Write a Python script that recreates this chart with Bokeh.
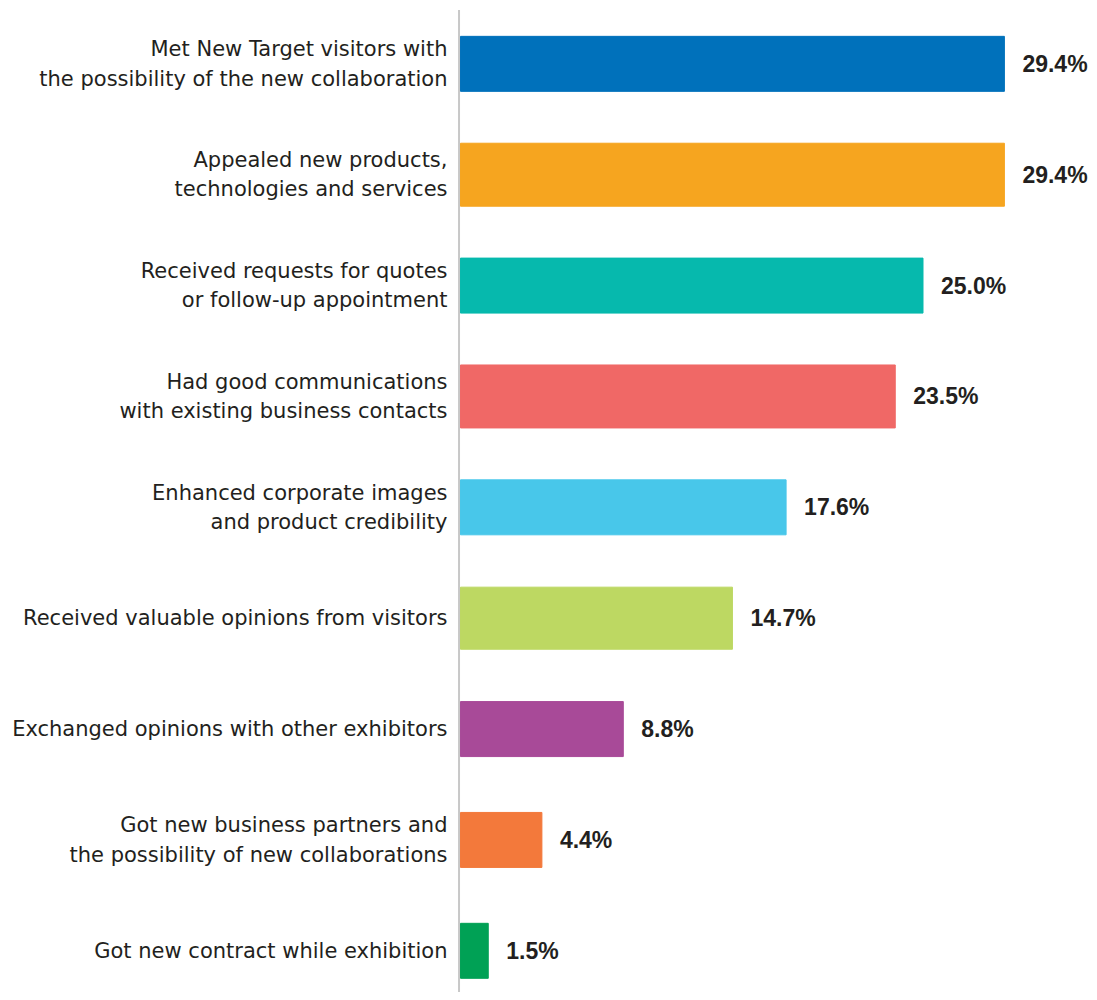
from bokeh.plotting import figure
from bokeh.models import Range1d, ColumnDataSource
from bokeh.core.properties import value
from bokeh.embed import file_html
from bokeh.resources import INLINE

categories = [
    "Met New Target visitors with\nthe possibility of the new collaboration",
    "Appealed new products,\ntechnologies and services",
    "Received requests for quotes\nor follow-up appointment",
    "Had good communications\nwith existing business contacts",
    "Enhanced corporate images\nand product credibility",
    "Received valuable opinions from visitors",
    "Exchanged opinions with other exhibitors",
    "Got new business partners and\nthe possibility of new collaborations",
    "Got new contract while exhibition",
]
values = [29.4, 29.4, 25.0, 23.5, 17.6, 14.7, 8.8, 4.4, 1.5]
value_labels = ["29.4%", "29.4%", "25.0%", "23.5%", "17.6%", "14.7%", "8.8%", "4.4%", "1.5%"]

colors = ["#0071bb", "#f6a51f", "#06b9ad", "#f06866", "#48c7ea",
          "#bdd862", "#a84a98", "#f3793b", "#00a155"]
thickness = [0.496, 0.568, 0.496, 0.568, 0.496, 0.56, 0.496, 0.496, 0.496]

W, H = 1089, 992
px_per_unit = 18.5
x_start = -(460 / px_per_unit)
x_end = x_start + W / px_per_unit
row = 110.87
y_top = -(63.35 / row)
y_bottom = y_top + H / row

idx = list(range(len(values)))
src = ColumnDataSource(dict(y=idx, v=values, cat=categories, lab=value_labels,
                            c=colors, h=thickness, zero=[0] * len(values)))

p = figure(width=W, height=H, output_backend="svg", toolbar_location=None,
           x_range=Range1d(x_start, x_end), y_range=Range1d(y_bottom, y_top),
           min_border=0, outline_line_color=None)
p.xaxis.visible = False
p.yaxis.visible = False
p.grid.visible = False
p.background_fill_color = "white"
p.border_fill_color = "white"

p.hbar(y="y", left=0, right="v", height="h", color="c", source=src)

# vertical axis line
p.segment(x0=[-0.08], x1=[-0.08], y0=[y_top + 9.5 / row], y1=[y_bottom],
          line_color="#c8c8c8", line_width=2)

p.text(x="zero", y="y", text="cat", source=src, x_offset=-13,
       text_align="right", text_baseline="middle",
       text_font=value("DejaVu Sans"), text_font_size="21px",
       text_color="#231f20", text_line_height=1.23)

p.text(x="v", y="y", text="lab", source=src, x_offset=18,
       text_align="left", text_baseline="middle",
       text_font=value("'Liberation Sans Narrow', 'Liberation Sans'"), text_font_size="23px",
       text_font_style="bold", text_color="#231f20")

open("out.html", "w").write(file_html(p, INLINE))
